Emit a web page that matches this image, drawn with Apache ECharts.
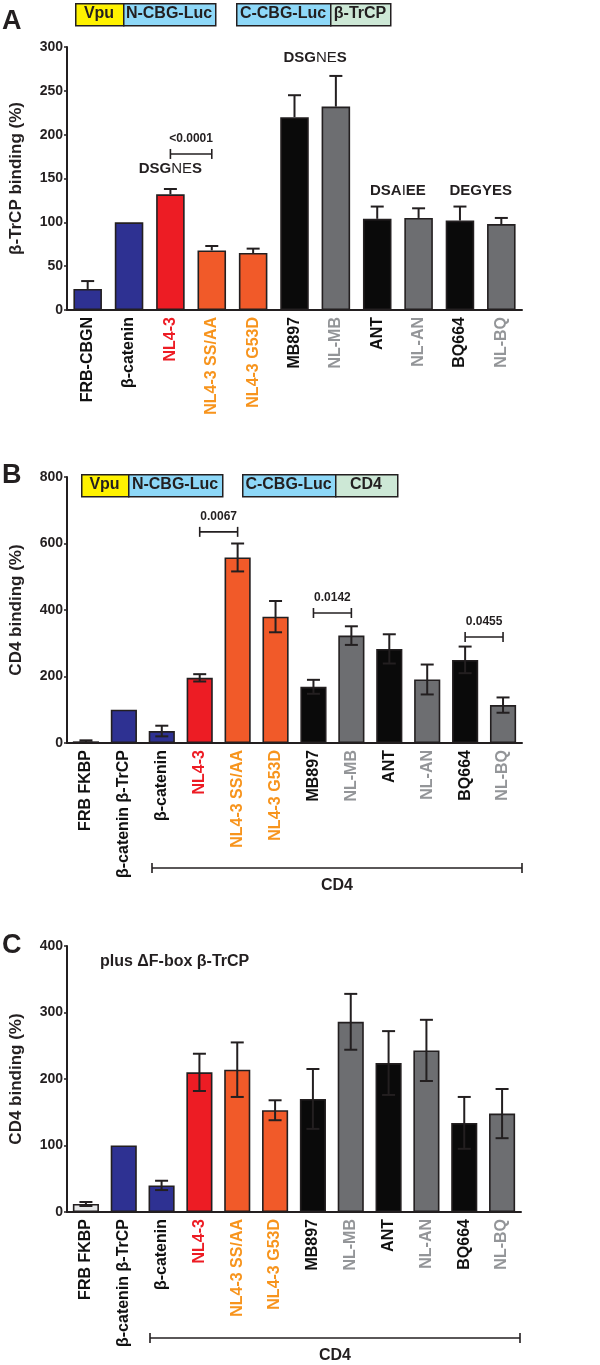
<!DOCTYPE html>
<html>
<head>
<meta charset="utf-8">
<script src="https://cdn.jsdelivr.net/npm/echarts@6/dist/echarts.min.js"></script>
<style>
html,body{margin:0;padding:0;background:#fff;}
#chart{width:600px;height:1365px;}
</style>
</head>
<body>
<div id="chart"></div>
<script>
// ---------- DATA ----------
var catsA = ['FRB-CBGN','β-catenin','NL4-3','NL4-3 SS/AA','NL4-3 G53D','MB897','NL-MB','ANT','NL-AN','BQ664','NL-BQ'];
var valsA = [24,100,132,68,65,220,232,104,105,102,98];
var errA  = [9,0,6,5,5,25,35,14,11,16,7];

var catsBC = ['FRB FKBP','β-catenin β-TrCP','β-catenin','NL4-3','NL4-3 SS/AA','NL4-3 G53D','MB897','NL-MB','ANT','NL-AN','BQ664','NL-BQ'];
var valsB = [5,100,36,196,558,380,169,323,283,191,250,114];
var errB  = [3,0,16,11,42,47,21,28,44,45,40,23];
var valsC = [12,100,40,210,214,153,170,286,224,243,134,148];
var errC  = [3,0,7,28,41,15,45,42,48,46,39,37];

var ticksA = {min:0,max:300,interval:50};
var ticksB = {min:0,max:800,interval:200};
var ticksC = {min:0,max:400,interval:100};

// significance brackets: [from category, to category, y value]
var bracketsA = [[2,3,178]];
var bracketTextA = ['<0.0001'];
var bracketsB = [[3,4,635],[6,7,391],[10,11,319]];
var bracketTextB = ['0.0067','0.0142','0.0455'];

// motif labels: [from category, to category, y value]
var motifsA = [[2,2,161],[5,6,288],[7,8,136],[9,10,136]];
var motifTextA = ['{b|DSG}{n|NE}{b|S}','{b|DSG}{n|NE}{b|S}','{b|DSA}{n|I}{b|EE}','{b|DEGYES}'];

// ---------- STYLES ----------
var BLUE='#2E3192', RED='#ED1C24', ORANGE='#F15A29', BLACK='#0a0a0a', GRAY='#6D6E71', LIGHT='#E6E7E8';
var LRED='#ED1C24', LORANGE='#F7941D', LGRAY='#939598', LBLACK='#111';
var fillA  = [BLUE,BLUE,RED,ORANGE,ORANGE,BLACK,GRAY,BLACK,GRAY,BLACK,GRAY];
var labA   = [LBLACK,LBLACK,LRED,LORANGE,LORANGE,LBLACK,LGRAY,LBLACK,LGRAY,LBLACK,LGRAY];
var fillB  = [BLACK,BLUE,BLUE,RED,ORANGE,ORANGE,BLACK,GRAY,BLACK,GRAY,BLACK,GRAY];
var fillC  = [LIGHT,BLUE,BLUE,RED,ORANGE,ORANGE,BLACK,GRAY,BLACK,GRAY,BLACK,GRAY];
var labBC  = [LBLACK,LBLACK,LBLACK,LRED,LORANGE,LORANGE,LBLACK,LGRAY,LBLACK,LGRAY,LBLACK,LGRAY];

var FONT = '"Liberation Sans", Arial, Helvetica, sans-serif';
var INK = '#231F20';

function barData(vals, fills){
  return vals.map(function(v,i){ return {value:v, itemStyle:{color:fills[i]}}; });
}
function errData(vals, errs, both){
  return vals.map(function(v,i){ return [i, v, errs[i], both ? errs[i] : 0]; });
}
function errRender(params, api){
  var x = api.value(0), v = api.value(1), up = api.value(2), dn = api.value(3);
  if (!up && !dn) return;
  var top = api.coord([x, v+up]), bot = api.coord([x, v-dn]);
  var c = 6.5;
  var st = {stroke:INK, lineWidth:2};
  var ch = [
    {type:'line', shape:{x1:top[0],y1:top[1],x2:bot[0],y2:bot[1]}, style:st},
    {type:'line', shape:{x1:top[0]-c,y1:top[1],x2:top[0]+c,y2:top[1]}, style:st}
  ];
  if (dn > 0) ch.push({type:'line', shape:{x1:bot[0]-c,y1:bot[1],x2:bot[0]+c,y2:bot[1]}, style:st});
  return {type:'group', children:ch};
}
function bracketRender(texts){
  return function(params, api){
    var p0 = api.coord([api.value(0), api.value(2)]);
    var p1 = api.coord([api.value(1), api.value(2)]);
    var st = {stroke:INK, lineWidth:1.6};
    return {type:'group', children:[
      {type:'line', shape:{x1:p0[0],y1:p0[1],x2:p1[0],y2:p1[1]}, style:st},
      {type:'line', shape:{x1:p0[0],y1:p0[1]-5,x2:p0[0],y2:p0[1]+5}, style:st},
      {type:'line', shape:{x1:p1[0],y1:p1[1]-5,x2:p1[0],y2:p1[1]+5}, style:st},
      {type:'text', x:(p0[0]+p1[0])/2, y:p0[1]-9, style:{text:texts[params.dataIndex], fill:INK,
        font:'bold 12px '+FONT, align:'center', verticalAlign:'bottom'}}
    ]};
  };
}
function motifRender(texts){
  return function(params, api){
    var p0 = api.coord([api.value(0), api.value(2)]);
    var p1 = api.coord([api.value(1), api.value(2)]);
    return {type:'text', x:(p0[0]+p1[0])/2, y:p0[1], style:{text:texts[params.dataIndex],
      align:'center', verticalAlign:'middle',
      rich:{b:{fontFamily:FONT,fontWeight:'bold',fontSize:15,fill:INK},
            n:{fontFamily:FONT,fontWeight:'normal',fontSize:15,fill:INK}}}};
  };
}

function xAxisCfg(idx, cats, colors){
  return {
    type:'category', gridIndex:idx, data:cats,
    axisLine:{lineStyle:{color:INK,width:2}},
    axisTick:{show:false},
    axisLabel:{rotate:90, margin:7, fontFamily:FONT, fontWeight:'bold', fontSize:16, interval:0,
      color:function(v,i){ return colors[cats.indexOf(v)]; }}
  };
}
function yAxisCfg(idx, t, name){
  return {
    type:'value', gridIndex:idx, min:t.min, max:t.max, interval:t.interval,
    name:name, nameLocation:'middle', nameGap:42,
    nameTextStyle:{fontFamily:FONT, fontWeight:'bold', fontSize:17, color:INK},
    axisLine:{show:true, lineStyle:{color:INK,width:2}},
    axisTick:{show:true, length:3, lineStyle:{color:INK,width:1.5}},
    axisLabel:{margin:4, fontFamily:FONT, fontWeight:'bold', fontSize:14, color:INK},
    splitLine:{show:false}
  };
}
function barSeries(idx, vals, fills){
  return {type:'bar', xAxisIndex:idx, yAxisIndex:idx, data:barData(vals,fills), barWidth:'69%',
    itemStyle:{borderColor:INK, borderWidth:1.6}, z:2, silent:true, animation:false};
}
function errSeries(idx, vals, errs, both){
  return {type:'custom', xAxisIndex:idx, yAxisIndex:idx, data:errData(vals,errs,both),
    renderItem:errRender, z:5, silent:true, animation:false};
}

function headerBox(x0, y0, parts){
  var els = [], x = x0;
  parts.forEach(function(p){
    els.push({type:'rect', left:x, top:y0, shape:{width:p[1], height:22},
      style:{fill:p[2], stroke:INK, lineWidth:1.5}});
    els.push({type:'text', x:x+p[1]/2, y:y0+11, style:{text:p[0], fill:INK,
      font:'bold 16px '+FONT, align:'center', verticalAlign:'middle'}});
    x += p[1];
  });
  return els;
}
var YEL='#FFF200', LBLUE='#8ED8F8', MINT='#CDE8D6';

var graphics = [];
graphics = graphics.concat(headerBox(75, 3, [['Vpu',48,YEL],['N-CBG-Luc',92,LBLUE]]));
graphics = graphics.concat(headerBox(236, 3, [['C-CBG-Luc',94,LBLUE],['β-TrCP',60,MINT]]));
graphics = graphics.concat(headerBox(81, 474, [['Vpu',47,YEL],['N-CBG-Luc',94,LBLUE]]));
graphics = graphics.concat(headerBox(242, 474, [['C-CBG-Luc',93,LBLUE],['CD4',62,MINT]]));
function panelLetter(t, x, y){
  return {type:'text', x:x, y:y, style:{text:t, font:'bold 27px '+FONT, fill:INK, align:'left', verticalAlign:'top'}};
}
graphics.push(panelLetter('A', 2, 8));
graphics.push(panelLetter('B', 2, 462));
graphics.push(panelLetter('C', 2, 932));
graphics.push({type:'text', x:100, y:962, style:{text:'plus ΔF-box β-TrCP', font:'bold 16px '+FONT, fill:INK, align:'left', verticalAlign:'middle'}});
function cd4Bracket(x0, x1, y){
  var st = {stroke:INK, lineWidth:1.6};
  return [
    {type:'line', shape:{x1:x0,y1:y,x2:x1,y2:y}, style:st},
    {type:'line', shape:{x1:x0,y1:y-5,x2:x0,y2:y+5}, style:st},
    {type:'line', shape:{x1:x1,y1:y-5,x2:x1,y2:y+5}, style:st},
    {type:'text', x:(x0+x1)/2, y:y+18, style:{text:'CD4', font:'bold 16px '+FONT, fill:INK, align:'center', verticalAlign:'middle'}}
  ];
}
graphics = graphics.concat(cd4Bracket(152, 522, 868));
graphics = graphics.concat(cd4Bracket(150, 520, 1338));

var option = {
  animation:false,
  backgroundColor:'#fff',
  grid:[
    {left:61, top:47, width:461, height:263},
    {left:63, top:477, width:459, height:266},
    {left:63, top:946, width:458, height:266}
  ],
  xAxis:[ xAxisCfg(0,catsA,labA), xAxisCfg(1,catsBC,labBC), xAxisCfg(2,catsBC,labBC) ],
  yAxis:[ yAxisCfg(0,ticksA,'β-TrCP binding (%)'), yAxisCfg(1,ticksB,'CD4 binding (%)'), yAxisCfg(2,ticksC,'CD4 binding (%)') ],
  series:[
    barSeries(0, valsA, fillA), errSeries(0, valsA, errA, false),
    barSeries(1, valsB, fillB), errSeries(1, valsB, errB, true),
    barSeries(2, valsC, fillC), errSeries(2, valsC, errC, true),
    {type:'custom', xAxisIndex:0, yAxisIndex:0, data:bracketsA, renderItem:bracketRender(bracketTextA), z:6, silent:true},
    {type:'custom', xAxisIndex:1, yAxisIndex:1, data:bracketsB, renderItem:bracketRender(bracketTextB), z:6, silent:true},
    {type:'custom', xAxisIndex:0, yAxisIndex:0, data:motifsA, renderItem:motifRender(motifTextA), z:6, silent:true}
  ],
  graphic: graphics
};
var chart = echarts.init(document.getElementById('chart'), null, {renderer:'canvas'});
chart.setOption(option);
</script>
</body>
</html>
